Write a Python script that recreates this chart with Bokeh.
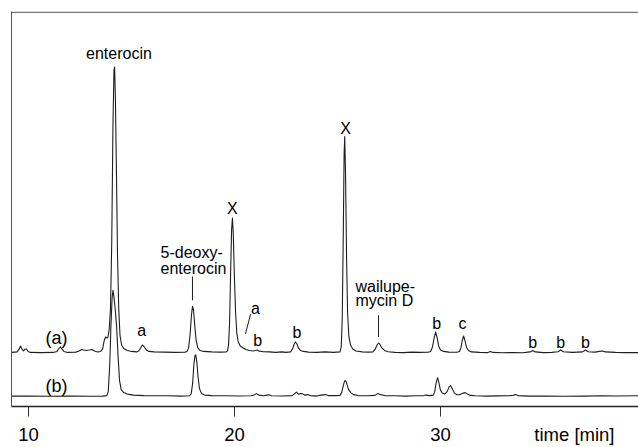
from bokeh.plotting import figure
from bokeh.models import Range1d, FixedTicker, Label, Span
from bokeh.embed import file_html
from bokeh.resources import INLINE

# ---------------- data ----------------
# retention time [min] and detector signal (arbitrary units) for trace (a)
time_a = [9.18, 9.45, 9.55, 9.61, 9.68, 9.76, 9.84, 9.90, 9.98, 10.1, 10.6, 11.2, 11.38, 11.48, 11.55,
          11.62, 11.72, 11.9, 12.3, 12.45, 12.58, 12.68, 12.8, 12.95, 13.08, 13.2, 13.35, 13.5, 13.6,
          13.67, 13.74, 13.8, 13.86, 13.92, 13.98, 14.04, 14.10, 14.15, 14.18, 14.22, 14.27, 14.32,
          14.38, 14.44, 14.52, 14.62, 14.8, 15.0, 15.25, 15.35, 15.44, 15.53, 15.62, 15.72, 15.85,
          16.1, 16.6, 17.1, 17.6, 17.70, 17.78, 17.85, 17.91, 17.96, 18.01, 18.07, 18.14, 18.22,
          18.33, 18.5, 18.9, 19.3, 19.6, 19.66, 19.71, 19.76, 19.81, 19.86, 19.90, 19.94, 19.99,
          20.05, 20.11, 20.18, 20.28, 20.42, 20.56, 20.72, 20.90, 21.02, 21.10, 21.2, 21.4, 21.7,
          22.0, 22.3, 22.5, 22.72, 22.82, 22.90, 22.96, 23.03, 23.10, 23.2, 23.35, 23.6, 24.0, 24.4,
          24.8, 25.12, 25.18, 25.23, 25.28, 25.32, 25.35, 25.39, 25.44, 25.49, 25.55, 25.63, 25.74,
          25.9, 26.2, 26.5, 26.72, 26.82, 26.92, 26.99, 27.06, 27.15, 27.28, 27.45, 27.8, 28.2,
          28.6, 29.0, 29.4, 29.52, 29.61, 29.69, 29.76, 29.83, 29.91, 30.0, 30.15, 30.4, 30.8,
          30.92, 30.99, 31.06, 31.12, 31.18, 31.26, 31.36, 31.5, 31.9, 32.3, 32.42, 32.55, 33.0,
          33.5, 34.0, 34.35, 34.47, 34.6, 35.0, 35.4, 35.7, 35.83, 35.96, 36.4, 36.9, 37.04, 37.17,
          37.5, 37.72, 37.86, 38.0, 38.5, 39.0, 39.7]
signal_a = [0.5, 1, 4, 7, 4, 2, 4, 4, 1.5, 0.5, 0.3, 0.5, 1.5, 4.5, 6,
            4, 1.5, 0.5, 0.8, 2, 3.5, 3, 2.5, 3, 3.5, 2, 1, 1.5, 4,
            12, 16, 15, 16, 24, 45, 110, 230, 285, 288, 255, 180, 100,
            45, 18, 8, 4.5, 2.5, 1.5, 1, 2, 5, 8, 6, 3, 1.5,
            1, 0.8, 0.5, 0.8, 1.5, 6, 20, 38, 47, 43, 28, 12, 5,
            2.5, 1.5, 1, 0.8, 1, 2, 8, 30, 80, 125, 136, 120, 80,
            42, 20, 11, 7, 5, 3.5, 2.5, 2, 2.5, 3, 1.8, 1.2, 1,
            0.5, 1, 0.5, 1, 4, 9, 11, 9, 5, 2.5, 1.5, 0.8, 0.5, 1,
            0.5, 1, 6, 35, 120, 200, 218, 180, 95, 40, 17, 8, 4,
            2, 1, 0.8, 1, 3.5, 8, 10, 8.5, 5, 2.5, 1.2, 0.5, 0.3,
            0.8, 0.5, 0.6, 1.5, 6, 15, 21, 16, 7, 3, 1.5, 0.8, 0.6,
            1.5, 5, 13, 17, 13, 5.5, 2.5, 1, 0.5, 0.3, 1.5, 0.5, 0.2,
            0.3, 0.2, 1, 2.5, 1, 0.3, 0.5, 1.2, 3, 1.2, 0.5, 1, 3, 1.2,
            0.8, 1.5, 2, 1, 0.5, 0.3, 0.3]

# trace (b)
time_b = [9.18, 10.0, 11.0, 12.0, 13.0, 13.6, 13.80, 13.87, 13.94, 14.00, 14.06, 14.10, 14.15, 14.21,
          14.28, 14.35, 14.42, 14.50, 14.62, 14.8, 15.1, 15.6, 16.2, 16.8, 17.4, 17.82, 17.90, 17.97,
          18.03, 18.08, 18.12, 18.17, 18.23, 18.30, 18.40, 18.55, 18.9, 19.5, 20.2, 20.8, 20.95,
          21.06, 21.18, 21.4, 21.58, 21.66, 21.8, 22.3, 22.8, 22.92, 23.0, 23.1, 23.2, 23.28, 23.4,
          23.55, 23.68, 24.0, 24.2, 24.4, 24.55, 24.9, 25.12, 25.2, 25.28, 25.35, 25.40, 25.46,
          25.54, 25.64, 25.78, 26.0, 26.5, 26.82, 26.95, 27.08, 27.3, 27.8, 28.3, 28.8, 29.2, 29.3,
          29.45, 29.65, 29.72, 29.79, 29.86, 29.92, 29.99, 30.08, 30.2, 30.32, 30.42, 30.49, 30.57,
          30.67, 30.80, 30.95, 31.1, 31.2, 31.3, 31.45, 31.7, 32.2, 32.8, 33.3, 33.52, 33.64, 33.76,
          34.3, 35.0, 36.0, 37.0, 37.8, 38.5, 39.7]
signal_b = [0.5, 0.5, 0.3, 0.5, 0.3, 0.5, 1, 5, 30, 70, 100, 107, 100, 88,
            70, 40, 16, 7, 4, 2.5, 1.5, 1, 0.8, 0.8, 0.5, 0.8, 3, 14,
            33, 41, 42, 35, 20, 8, 3, 1.5, 1, 0.8, 0.6, 0.8, 1.5,
            3, 1.5, 0.8, 1.5, 1.8, 0.8, 0.6, 1, 3, 4.5, 2.5, 3, 3, 1.5,
            2, 1, 0.5, 1.5, 2, 1, 1, 1.2, 4, 11, 16, 16, 12,
            7, 4, 2, 1, 0.8, 1.2, 3, 2, 1, 0.8, 0.5, 0.8, 1, 1.5,
            1, 1.5, 5, 14, 19, 14, 7, 3.5, 2.5, 5, 10, 11, 8,
            3.5, 1.8, 2, 3.5, 4, 2.5, 1.2, 0.8, 0.5, 0.7, 0.8, 1.2, 2, 1,
            0.5, 0.5, 0.4, 0.5, 0.8, 0.6, 0.8]

x_ticks = [10, 20, 30]
x_title = "time [min]"
x_title_pos = 36.5

# ---------------- layout constants ----------------
offset_a = 54     # vertical stacking of trace (a)
offset_b = 10     # vertical stacking of trace (b)
FONT = "Liberation Sans"
INK = "#1e1e1e"

p = figure(width=638, height=447, output_backend="svg", toolbar_location=None,
           x_range=Range1d(9.175, 39.61), y_range=Range1d(0, 398),
           min_border_left=11, min_border_right=0, min_border_top=11, min_border_bottom=38)
p.xgrid.visible = False
p.ygrid.visible = False
p.outline_line_color = None
p.background_fill_color = "white"
p.border_fill_color = "white"

# bottom axis: tick marks drawn as "minor" ticks so the title can sit in the label row
p.xaxis.ticker = FixedTicker(ticks=x_ticks + [x_title_pos], minor_ticks=x_ticks)
p.xaxis.major_label_overrides = {x_title_pos: x_title}
p.xaxis.axis_line_color = "#222222"
p.xaxis.axis_line_width = 1.5
p.xaxis.major_tick_line_color = None
p.xaxis.major_tick_out = 0
p.xaxis.major_tick_in = 0
p.xaxis.minor_tick_line_color = "#333333"
p.xaxis.minor_tick_out = 10
p.xaxis.minor_tick_in = 0
p.xaxis.major_label_text_font = FONT
p.xaxis.major_label_text_font_size = "18.5px"
p.xaxis.major_label_text_color = "black"
p.xaxis.major_label_standoff = 7

# left border as bare axis
for ax in p.yaxis:
    ax.ticker = FixedTicker(ticks=[])
    ax.major_label_text_font_size = "0px"
    ax.major_tick_out = 0
    ax.major_tick_in = 0
    ax.minor_tick_out = 0
    ax.minor_tick_in = 0
    ax.major_label_standoff = 0
    ax.axis_line_color = "#555555"
    ax.axis_line_width = 1

# top border line
p.add_layout(Span(location=397.2, dimension="width", line_color="#777777", line_width=1.6))

# traces
ya = [v + offset_a for v in signal_a]
yb = [v + offset_b for v in signal_b]
p.line(time_a, ya, line_color=INK, line_width=1.1, line_join="round")
p.line(time_b, yb, line_color=INK, line_width=1.1, line_join="round")

# annotations: (text, x, y, size, align)
labels = [
    ("enterocin", 14.39, 356, "16px", "center"),
    ("X", 19.90, 200, "16px", "center"),
    ("X", 25.39, 280, "16px", "center"),
    ("5-deoxy-", 16.41, 155, "16px", "left"),
    ("enterocin", 16.41, 139, "16px", "left"),
    ("wailupe-", 25.87, 121, "16px", "left"),
    ("mycin D", 25.87, 107, "16px", "left"),
    ("a", 15.49, 77, "16px", "center"),
    ("a", 21.02, 99, "16px", "center"),
    ("b", 21.12, 67, "16px", "center"),
    ("b", 23.03, 75, "16px", "center"),
    ("b", 29.81, 84, "16px", "center"),
    ("c", 31.07, 84, "16px", "center"),
    ("b", 34.47, 64, "16px", "center"),
    ("b", 35.83, 64, "16px", "center"),
    ("b", 37.04, 64, "16px", "center"),
    ("(a)", 11.36, 69.5, "18px", "center"),
    ("(b)", 11.36, 21, "18px", "center"),
]
for txt, x, y, size, align in labels:
    p.add_layout(Label(x=x, y=y, text=txt, text_font=FONT, text_font_size=size,
                       text_color="black", text_align=align, text_baseline="alphabetic"))

# pointer lines
ptr_x0 = [17.96, 26.99, 20.78]
ptr_y0 = [131, 92, 93]
ptr_x1 = [17.96, 26.99, 20.53]
ptr_y1 = [107, 70, 73]
p.segment(ptr_x0, ptr_y0, ptr_x1, ptr_y1, line_color=INK, line_width=1)

open("out.html", "w").write(file_html(p, INLINE))
